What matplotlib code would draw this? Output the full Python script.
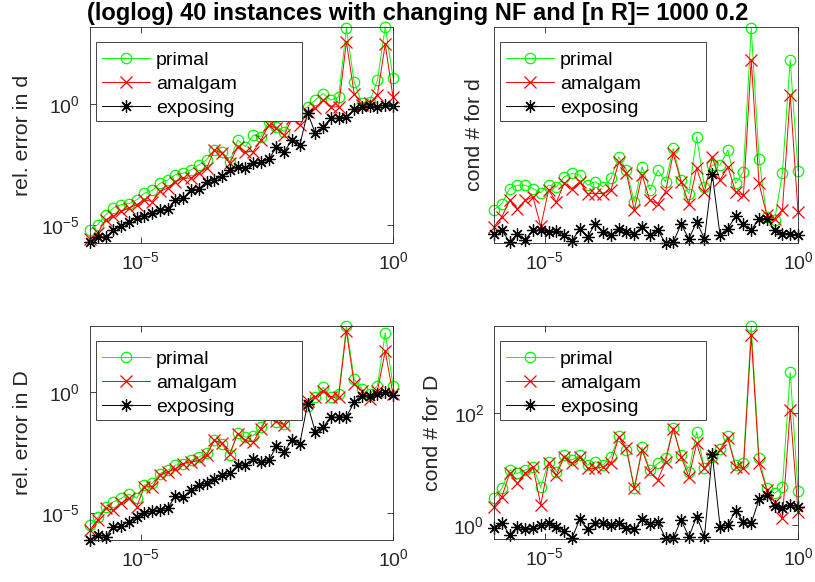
import matplotlib
matplotlib.use('Agg')
import matplotlib.pyplot as plt
import numpy as np
from matplotlib.patches import Rectangle
from matplotlib.ticker import NullLocator

plt.rcParams['font.family'] = ['Liberation Sans', 'DejaVu Sans']
plt.rcParams['mathtext.default'] = 'regular'

# x values (log10 of NF), 40 instances
x_exp = [-6.0, -5.846, -5.692, -5.538, -5.385, -5.231, -5.077, -4.923, -4.769, -4.615,
         -4.462, -4.308, -4.154, -4.0, -3.846, -3.692, -3.538, -3.385, -3.231, -3.077,
         -2.923, -2.769, -2.615, -2.462, -2.308, -2.154, -2.0, -1.846, -1.692, -1.538,
         -1.385, -1.231, -1.077, -0.923, -0.769, -0.615, -0.462, -0.308, -0.154, 0.0]

# all y values are log10
# rel. error in d
err_d_primal = [-5.21, -5.00, -4.59, -4.31, -4.17, -4.13, -3.97, -3.69, -3.58, -3.28,
                -3.14, -2.93, -2.86, -2.73, -2.52, -2.31, -1.90, -1.97, -2.38, -1.49,
                -1.76, -1.28, -1.35, -0.73, -0.94, -1.14, -0.45, -0.32, -0.11, 0.17,
                0.44, 0.17, 0.30, 3.14, 0.92, 0.03, 0.10, 0.99, 3.20, 1.10]
err_d_amalgam = [-5.59, -5.34, -4.79, -4.66, -4.45, -4.31, -4.17, -3.97, -4.04, -3.62,
                 -3.48, -3.21, -3.07, -3.07, -2.86, -2.66, -1.90, -2.04, -2.45, -1.76,
                 -1.97, -1.97, -1.49, -0.87, -1.01, -1.28, -0.59, -0.87, -0.32, -0.18,
                 0.17, -0.11, -0.11, 2.59, 0.43, -0.04, 0.03, 0.39, 2.49, 0.29]
err_d_exposing = [-5.73, -5.51, -5.51, -5.23, -5.07, -4.90, -4.72, -4.63, -4.52, -4.41,
                  -4.35, -3.97, -3.90, -3.55, -3.53, -3.21, -3.14, -3.00, -2.73, -2.59,
                  -2.66, -2.45, -2.42, -2.29, -1.79, -1.97, -1.49, -1.69, -0.36, -1.21,
                  -0.94, -0.59, -0.59, -0.52, -0.22, -0.11, -0.08, -0.11, -0.04, -0.08]

# cond # for d
cond_d_primal = [0.219, 0.244, 0.307, 0.321, 0.321, 0.307, 0.289, 0.321, 0.314, 0.356,
                 0.370, 0.363, 0.321, 0.335, 0.314, 0.349, 0.439, 0.384, 0.251, 0.398,
                 0.300, 0.384, 0.335, 0.474, 0.342, 0.286, 0.523, 0.314, 0.405, 0.405,
                 0.467, 0.328, 0.377, 0.976, 0.432, 0.189, 0.175, 0.370, 0.843, 0.381]
cond_d_amalgam = [0.147, 0.189, 0.258, 0.223, 0.258, 0.272, 0.150, 0.300, 0.251, 0.328,
                  0.307, 0.335, 0.286, 0.286, 0.286, 0.300, 0.418, 0.370, 0.217, 0.363,
                  0.258, 0.244, 0.293, 0.453, 0.335, 0.244, 0.391, 0.293, 0.437, 0.342,
                  0.398, 0.293, 0.279, 0.843, 0.328, 0.196, 0.182, 0.217, 0.697, 0.210]
cond_d_exposing = [0.119, 0.133, 0.084, 0.119, 0.094, 0.133, 0.133, 0.126, 0.130, 0.112,
                   0.088, 0.140, 0.105, 0.161, 0.126, 0.112, 0.140, 0.126, 0.119, 0.147,
                   0.112, 0.133, 0.080, 0.084, 0.158, 0.098, 0.168, 0.098, 0.367, 0.112,
                   0.140, 0.191, 0.158, 0.133, 0.182, 0.182, 0.133, 0.119, 0.119, 0.112]

# rel. error in D
err_D_primal = [-5.51, -5.19, -4.75, -4.55, -4.41, -4.23, -4.41, -3.86, -3.79, -3.38,
                -3.25, -3.04, -2.97, -2.84, -2.70, -2.53, -2.01, -2.18, -2.63, -1.71,
                -1.88, -1.81, -1.47, -0.92, -1.26, -1.33, -0.78, -0.51, -0.58, -0.21,
                0.18, -0.23, -0.10, 2.71, 0.52, 0.11, -0.10, 0.25, 2.44, 0.25]
err_D_amalgam = [-5.71, -5.30, -4.82, -4.89, -4.62, -4.41, -4.75, -3.93, -3.93, -3.45,
                 -3.32, -3.18, -2.97, -2.90, -2.84, -2.63, -2.01, -2.12, -2.56, -1.74,
                 -2.01, -2.08, -1.53, -0.99, -1.22, -1.36, -0.78, -0.58, -0.37, -0.21,
                 0.04, -0.23, -0.21, 2.53, 0.32, 0.04, -0.30, 0.04, 1.68, -0.10]
err_D_exposing = [-6.15, -5.92, -5.99, -5.60, -5.55, -5.37, -5.16, -5.03, -4.92, -4.89,
                  -4.82, -4.32, -4.34, -4.07, -3.86, -3.79, -3.59, -3.45, -3.36, -3.04,
                  -3.04, -2.77, -2.90, -2.84, -2.26, -2.49, -1.99, -2.15, -0.51, -1.67,
                  -1.47, -1.05, -1.05, -1.03, -0.44, -0.16, -0.16, -0.10, -0.03, -0.14]

# cond # for D
cond_D_primal = [0.475, 0.653, 0.979, 0.920, 0.979, 1.039, 0.671, 1.128, 0.950, 1.246,
                 1.157, 1.246, 1.068, 1.128, 1.068, 1.217, 1.585, 1.335, 0.653, 1.383,
                 0.979, 1.098, 1.187, 1.739, 1.246, 0.950, 1.662, 1.009, 1.217, 1.347,
                 1.585, 1.068, 1.110, 3.543, 1.187, 0.653, 0.564, 0.682, 2.730, 0.611]
cond_D_amalgam = [0.326, 0.504, 0.920, 0.742, 0.920, 1.039, 0.356, 1.098, 0.890, 1.217,
                  1.098, 1.217, 1.009, 1.009, 1.039, 1.098, 1.573, 1.365, 0.653, 1.335,
                  0.950, 0.801, 1.128, 1.721, 1.217, 0.861, 1.454, 1.009, 1.187, 1.335,
                  1.543, 1.039, 1.009, 3.383, 1.098, 0.623, 0.415, 0.119, 2.047, 0.237]
cond_D_exposing = [-0.059, 0.042, -0.178, -0.030, -0.077, -0.059, 0.000, 0.030, -0.042, -0.101,
                   -0.237, 0.101, -0.077, 0.030, 0.030, 0.000, 0.030, -0.059, -0.077, 0.101,
                   0.018, 0.059, -0.237, -0.237, 0.089, -0.208, 0.148, -0.208, 1.264, -0.030,
                   0.000, 0.255, 0.059, 0.030, 0.457, 0.534, 0.338, 0.297, 0.356, 0.326]

W, H = 815, 582
fig = plt.figure(figsize=(W / 100, H / 100), dpi=100)
edge = '0.15'


def draw_panel(box, primal, amalgam, exposing, ylims, yticks, ylabel, label_px):
    l, t, r, b = box
    ax = fig.add_axes([l / W, 1 - b / H, (r - l) / W, (b - t) / H])
    x = 10 ** np.array(x_exp)
    ax.loglog(x, 10 ** np.array(primal), '-o', color=(0, 1, 0), mfc='none', ms=7.5,
              mew=0.9, lw=0.7, clip_on=False, label='primal')
    ax.loglog(x, 10 ** np.array(amalgam), '-x', color='red', ms=8, mew=0.9,
              lw=0.7, clip_on=False, label='amalgam')
    ax.loglog(x, 10 ** np.array(exposing), '-', marker=(8, 2, 0), color='black', ms=9,
              mew=0.9, lw=0.7, clip_on=False, label='exposing')
    ax.set_xlim(1e-6, 1)
    ax.set_ylim(10 ** ylims[0], 10 ** ylims[1])
    ax.set_xticks([1e-5, 1], [r'$10^{-5}$', r'$10^{0}$'])
    ax.xaxis.set_minor_locator(NullLocator())
    if yticks:
        ax.set_yticks([10.0 ** e for e in yticks], [r'$10^{%d}$' % e for e in yticks])
    else:
        ax.yaxis.set_major_locator(NullLocator())
    ax.yaxis.set_minor_locator(NullLocator())
    ax.tick_params(which='both', direction='in', top=True, right=True, length=4,
                   width=0.6, colors=edge, labelsize=14)
    ax.tick_params(axis='x', pad=6)
    ax.tick_params(axis='y', pad=7)
    for s in ax.spines.values():
        s.set_color(edge)
        s.set_linewidth(0.6)
    ax.set_ylabel(ylabel, fontsize=15.4, color=edge)
    ax.yaxis.set_label_coords((label_px - l) / (r - l), 0.5)

    # matlab style legend box
    aw, ah = r - l, b - t
    ax.add_patch(Rectangle((5.7 / aw, 1 - 94.4 / ah), 206 / aw, 79 / ah, transform=ax.transAxes,
                           facecolor='white', edgecolor=edge, lw=0.6, zorder=5, clip_on=False))
    leg = ax.legend(loc='upper left', bbox_to_anchor=(12 / aw, 1 - 24 / ah), frameon=False,
                    fontsize=14, handlelength=2.47, handletextpad=0.3, labelspacing=0.33,
                    borderpad=0, borderaxespad=0, numpoints=1)
    leg.set_zorder(6)
    return ax


draw_panel((90, 27, 393, 243), err_d_primal, err_d_amalgam, err_d_exposing,
           (-5.76, 3.2), [-5, 0], 'rel. error in d', 32)
draw_panel((494, 27, 798, 243), cond_d_primal, cond_d_amalgam, cond_d_exposing,
           (0.08, 0.98), [], 'cond # for d', 484)
draw_panel((90, 326, 393, 540), err_D_primal, err_D_amalgam, err_D_exposing,
           (-6.13, 2.72), [-5, 0], 'rel. error in D', 32)
draw_panel((494, 326, 798, 539), cond_D_primal, cond_D_amalgam, cond_D_exposing,
           (-0.25, 3.55), [0, 2], 'cond # for D', 442)

fig.text(418 / W, 1 - 20 / H, '(loglog) 40 instances with changing NF and [n R]= 1000 0.2',
         ha='center', va='baseline', fontsize=17, fontweight='bold')

fig.savefig('out.png', dpi=100)
